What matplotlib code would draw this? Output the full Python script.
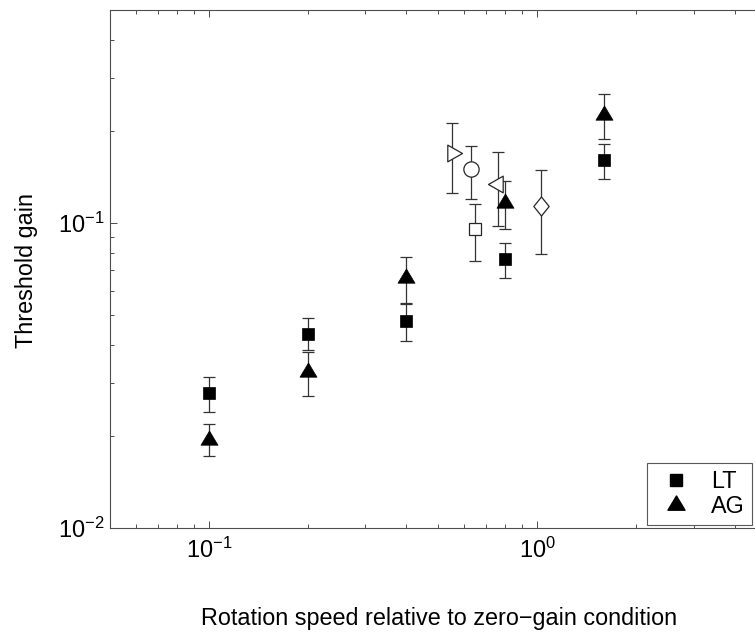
import matplotlib
matplotlib.use("Agg")
import matplotlib.pyplot as plt
from matplotlib.path import Path
from matplotlib.ticker import LogLocator, LogFormatterMathtext, NullFormatter
from matplotlib.lines import Line2D

plt.rcParams['font.family'] = ['Liberation Sans', 'DejaVu Sans']
plt.rcParams['mathtext.fontset'] = 'custom'
plt.rcParams['mathtext.rm'] = 'Liberation Sans'
plt.rcParams['mathtext.it'] = 'Liberation Sans:italic'
plt.rcParams['mathtext.bf'] = 'Liberation Sans:bold'

# ---- data ----
lt_x = [0.1, 0.2, 0.4, 0.8, 1.6]
lt_y = [0.0277, 0.0433, 0.0477, 0.0762, 0.1613]
lt_lo = [0.0240, 0.0384, 0.0411, 0.0660, 0.1397]
lt_hi = [0.0314, 0.0488, 0.0547, 0.0864, 0.1816]

ag_x = [0.1, 0.2, 0.4, 0.8, 1.6]
ag_y = [0.0195, 0.0326, 0.0659, 0.1166, 0.227]
ag_lo = [0.0172, 0.0272, 0.0544, 0.0958, 0.1886]
ag_hi = [0.0219, 0.0379, 0.0777, 0.1380, 0.266]

open_names = ['right', 'circle', 'square', 'left', 'diamond']
open_x = [0.55, 0.63, 0.646, 0.76, 1.03]
open_y = [0.1696, 0.1503, 0.0956, 0.1345, 0.1142]
open_lo = [0.1254, 0.1199, 0.0751, 0.0980, 0.0793]
open_hi = [0.2137, 0.1790, 0.1157, 0.1710, 0.1490]

legend_labels = ['LT', 'AG']
xlabel = 'Rotation speed relative to zero\u2212gain condition'
ylabel = 'Threshold gain'

# ---- custom markers ----
tri_up = Path([(-8.5, -4.7), (8.5, -4.7), (0, 9.5), (-8.5, -4.7)],
              [Path.MOVETO, Path.LINETO, Path.LINETO, Path.CLOSEPOLY])
tri_right = Path([(-4.7, 8.35), (-4.7, -8.35), (10, 0), (-4.7, 8.35)],
                 [Path.MOVETO, Path.LINETO, Path.LINETO, Path.CLOSEPOLY])
tri_left = Path([(4.7, 8.35), (4.7, -8.35), (-10, 0), (4.7, 8.35)],
                [Path.MOVETO, Path.LINETO, Path.LINETO, Path.CLOSEPOLY])
diamond = Path([(0, 9.5), (7.65, 0), (0, -9.5), (-7.65, 0), (0, 9.5)],
               [Path.MOVETO, Path.LINETO, Path.LINETO, Path.LINETO, Path.CLOSEPOLY])

open_style = {
    'right': (tri_right, 14.4),
    'circle': ('o', 11.0),
    'square': ('s', 8.6),
    'left': (tri_left, 14.4),
    'diamond': (diamond, 13.7),
}

fig = plt.figure(figsize=(7.55, 6.33), dpi=100)
ax = fig.add_axes([110/755, 1-528.3/633, (766.5-110)/755, (528.3-10)/633])

eb_color = '0.2'
eb_lw = 0.9
cap = 4

def yerr(y, lo, hi):
    return [[a - b for a, b in zip(y, lo)], [c - a for a, c in zip(y, hi)]]

ax.errorbar(lt_x, lt_y, yerr=yerr(lt_y, lt_lo, lt_hi), fmt='none',
            ecolor=eb_color, elinewidth=eb_lw, capsize=cap, capthick=eb_lw, zorder=2)
ax.errorbar(ag_x, ag_y, yerr=yerr(ag_y, ag_lo, ag_hi), fmt='none',
            ecolor=eb_color, elinewidth=eb_lw, capsize=cap, capthick=eb_lw, zorder=2)
ax.plot(lt_x, lt_y, linestyle='none', marker='s', markersize=8.6,
        markerfacecolor='black', markeredgecolor='black', markeredgewidth=0.5, zorder=3)
ax.plot(ag_x, ag_y, linestyle='none', marker=tri_up, markersize=13.7,
        markerfacecolor='black', markeredgecolor='black', markeredgewidth=0.5, zorder=3)

for name, x, y, lo, hi in zip(open_names, open_x, open_y, open_lo, open_hi):
    ax.errorbar([x], [y], yerr=[[y - lo], [hi - y]], fmt='none',
                ecolor=eb_color, elinewidth=eb_lw, capsize=cap, capthick=eb_lw, zorder=2)
    m, ms = open_style[name]
    ax.plot([x], [y], linestyle='none', marker=m, markersize=ms,
            markerfacecolor='white', markeredgecolor='0.15', markeredgewidth=0.9, zorder=3)

ax.set_xscale('log')
ax.set_yscale('log')
ax.set_xlim(0.05, 5)
ax.set_ylim(0.01, 0.5)

ax.xaxis.set_major_locator(LogLocator(base=10))
ax.yaxis.set_major_locator(LogLocator(base=10))
ax.xaxis.set_major_formatter(LogFormatterMathtext())
ax.yaxis.set_major_formatter(LogFormatterMathtext())
ax.xaxis.set_minor_formatter(NullFormatter())
ax.yaxis.set_minor_formatter(NullFormatter())

for s in ax.spines.values():
    s.set_color('0.3')
    s.set_linewidth(0.8)
ax.tick_params(which='both', direction='in', top=True, right=True, color='0.3', width=0.7)
ax.tick_params(which='major', length=5, labelsize=17)
ax.tick_params(which='minor', length=2.8)
ax.tick_params(axis='x', which='major', pad=7)
ax.tick_params(axis='y', which='major', pad=4)

fig.text(439/755, 1-625/633, xlabel, ha='center', va='baseline', fontsize=16.8)
fig.text(26.5/755, 1-271/633, ylabel, ha='center', va='center', rotation=90, fontsize=16.8)

handles = [
    Line2D([], [], linestyle='none', marker='s', markersize=8.6,
           markerfacecolor='black', markeredgecolor='black'),
    Line2D([], [], linestyle='none', marker=tri_up, markersize=13.7,
           markerfacecolor='black', markeredgecolor='black'),
]
leg = ax.legend(handles, legend_labels, loc='upper left',
                bbox_to_anchor=(646.7/755, 1-463.3/633), bbox_transform=fig.transFigure,
                fontsize=16.8, frameon=True, fancybox=False, framealpha=1,
                edgecolor='0.35', borderpad=0.3, handlelength=1.9,
                handletextpad=0.55, labelspacing=0.08, borderaxespad=0)
leg.get_frame().set_linewidth(0.8)

fig.savefig('out.png', dpi=100)
